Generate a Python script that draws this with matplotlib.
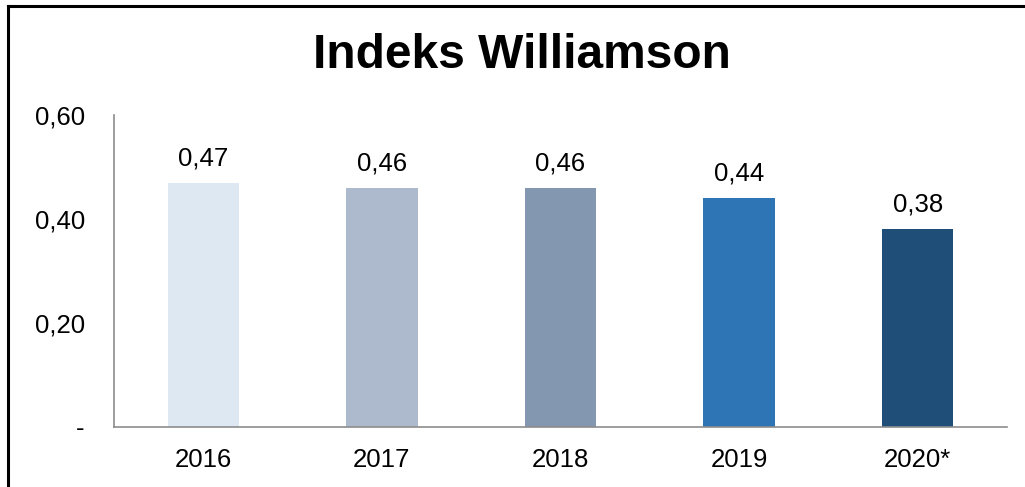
import matplotlib.pyplot as plt
from matplotlib.lines import Line2D

years = ["2016", "2017", "2018", "2019", "2020*"]
values = [0.47, 0.46, 0.46, 0.44, 0.38]
labels = ["0,47", "0,46", "0,46", "0,44", "0,38"]
colors = ["#DDE8F3", "#ADB9CC", "#8497B0", "#2E75B6", "#1F4E79"]
yticks = [0, 0.2, 0.4, 0.6]
ytick_labels = ["-", "0,20", "0,40", "0,60"]

plt.rcParams['font.family'] = ['Liberation Sans', 'DejaVu Sans']

fig = plt.figure(figsize=(10.25, 4.87), dpi=100)
ax = fig.add_axes([114/1025, 1-427/487, 893/1025, 312/487])

x = range(len(years))
ax.bar(x, values, width=0.4, color=colors)
for i, v in enumerate(values):
    ax.annotate(labels[i], (i, v), xytext=(0, 9), textcoords="offset points",
                ha="center", va="bottom", fontsize=18.5)

ax.set_xlim(-0.5, 4.5)
ax.set_ylim(0, 0.6)
ax.set_xticks(list(x))
ax.set_xticklabels(years, fontsize=18.5)
ax.set_yticks(yticks)
ax.set_yticklabels(ytick_labels, fontsize=18.5)
ax.tick_params(axis="both", length=0)
ax.tick_params(axis="x", pad=15)
ax.tick_params(axis="y", pad=21)
for s in ["top", "right"]:
    ax.spines[s].set_visible(False)
for s in ["left", "bottom"]:
    ax.spines[s].set_color("#8C8C8C")
    ax.spines[s].set_linewidth(1.2)

fig.text(0.509, 1-56/487, "Indeks Williamson", ha="center", va="center",
         fontsize=34.5, fontweight="bold")

# outer frame (left and top)
fig.add_artist(Line2D([8/1025, 8/1025], [0, 1-6/487], color="black", lw=2.2))
fig.add_artist(Line2D([8/1025, 1], [1-6/487, 1-6/487], color="black", lw=2.2))

fig.savefig("out.png", dpi=100)
